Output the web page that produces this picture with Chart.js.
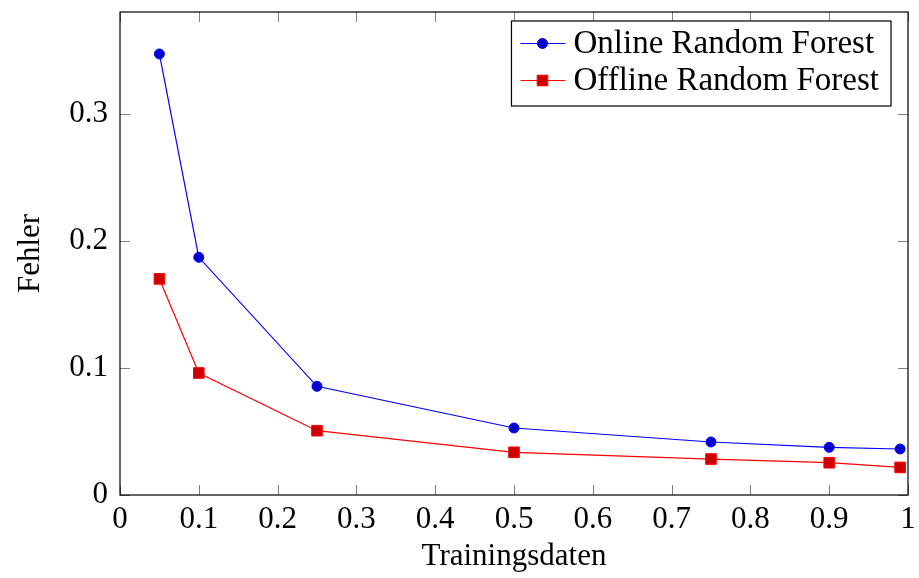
<!DOCTYPE html>
<html>
<head>
<meta charset="utf-8">
<script src="https://cdn.jsdelivr.net/npm/chart.js@4.4.1/dist/chart.umd.min.js"></script>
<style>
  html, body { margin: 0; padding: 0; background: #fff; }
  #wrap { width: 919px; height: 578px; }
</style>
</head>
<body>
<div id="wrap"><canvas id="chart" width="919" height="578"></canvas></div>
<script>
const trainingsdaten = [0.05, 0.1, 0.25, 0.5, 0.75, 0.9, 0.99]
const onlineFehler = [0.347, 0.187, 0.0855, 0.0527, 0.0417, 0.0375, 0.0362]
const offlineFehler = [0.170, 0.096, 0.0506, 0.0336, 0.0283, 0.0254, 0.0217]
const xTicks = [0, 0.1, 0.2, 0.3, 0.4, 0.5, 0.6, 0.7, 0.8, 0.9, 1]
const yTicks = [0, 0.1, 0.2, 0.3]
const seriesLabels = ['Online Random Forest', 'Offline Random Forest']
const xTitle = 'Trainingsdaten'
const yTitle = 'Fehler'

const serif = '"Liberation Serif", "Times New Roman", serif'
const fmt = v => String(Number(v.toFixed(2)))

// pgfplots style: box round the plot, small ticks pointing inward on all sides
const pgfAxis = {
  id: 'pgfAxis',
  beforeDatasetsDraw(chart) {
    const { ctx, chartArea: a, scales } = chart
    const len = 10
    ctx.save()
    ctx.strokeStyle = 'rgba(0,0,0,0.5)'
    ctx.lineWidth = 1
    ctx.beginPath()
    xTicks.forEach(v => {
      const x = Math.round(scales.x.getPixelForValue(v)) + 0.5
      ctx.moveTo(x, a.bottom); ctx.lineTo(x, a.bottom - len)
      ctx.moveTo(x, a.top); ctx.lineTo(x, a.top + len)
    })
    yTicks.forEach(v => {
      const y = Math.round(scales.y.getPixelForValue(v)) + 0.5
      ctx.moveTo(a.left, y); ctx.lineTo(a.left + len, y)
      ctx.moveTo(a.right, y); ctx.lineTo(a.right - len, y)
    })
    ctx.stroke()
    ctx.strokeStyle = '#000'
    ctx.lineWidth = 1.2
    ctx.strokeRect(a.left, a.top, a.right - a.left, a.bottom - a.top)
    ctx.restore()
  },
  afterDraw(chart) {
    const { ctx, chartArea: a } = chart
    const sets = chart.data.datasets
    ctx.save()
    ctx.font = '33px ' + serif
    const textW = Math.max(...sets.map(d => ctx.measureText(d.label).width))
    const right = a.right - 17
    const width = 62 + textW + 12
    const left = right - width
    const top = a.top + 9
    const rowH = 37
    const height = 85
    ctx.fillStyle = '#fff'
    ctx.fillRect(left, top, width, height)
    ctx.strokeStyle = '#000'
    ctx.lineWidth = 1.2
    ctx.strokeRect(left, top, width, height)
    sets.forEach((d, i) => {
      const y = top + 22.5 + i * rowH
      ctx.strokeStyle = d.borderColor
      ctx.lineWidth = d.borderWidth
      ctx.beginPath()
      ctx.moveTo(left + 9, y); ctx.lineTo(left + 54, y)
      ctx.stroke()
      ctx.fillStyle = d.pointBackgroundColor
      ctx.strokeStyle = d.pointBorderColor
      ctx.lineWidth = 1
      Chart.helpers.drawPoint(ctx, { pointStyle: d.pointStyle, radius: d.pointRadius, rotation: 0, borderWidth: 1 }, left + 31, y)
      ctx.fillStyle = '#000'
      ctx.textBaseline = 'middle'
      ctx.textAlign = 'left'
      ctx.fillText(d.label, left + 62, y + 1)
    })
    ctx.restore()
  }
}

const ctx1 = document.getElementById('chart')
let config1 = {
  type: 'line',
  data: {
    datasets: [{
      label: seriesLabels[0],
      data: trainingsdaten.map((x, i) => ({ x, y: onlineFehler[i] })),
      borderColor: '#0000ff',
      borderWidth: 1.2,
      pointStyle: 'circle',
      pointRadius: 5,
      pointBackgroundColor: '#0000cc',
      pointBorderColor: '#0000ff',
      pointBorderWidth: 1,
      tension: 0
    }, {
      label: seriesLabels[1],
      data: trainingsdaten.map((x, i) => ({ x, y: offlineFehler[i] })),
      borderColor: '#ff0000',
      borderWidth: 1.2,
      pointStyle: 'rect',
      pointRadius: 7.5,
      pointBackgroundColor: '#cc0000',
      pointBorderColor: '#ff0000',
      pointBorderWidth: 1,
      tension: 0
    }]
  },
  options: {
    responsive: false,
    devicePixelRatio: 1,
    animation: false,
    layout: { padding: { top: 12, right: 11, left: 0, bottom: 0 } },
    plugins: { legend: { display: false }, tooltip: { enabled: false } },
    scales: {
      x: {
        type: 'linear',
        min: 0,
        max: 1,
        afterBuildTicks: scale => { scale.ticks = xTicks.map(value => ({ value })) },
        afterFit: scale => {
          scale.height = 83
          scale.paddingLeft = 0
          scale.paddingRight = 0
        },
        grid: { display: false, drawTicks: false },
        border: { display: false },
        ticks: {
          padding: 6,
          color: '#000',
          font: { family: serif, size: 31 },
          maxRotation: 0,
          autoSkip: false,
          callback: v => fmt(v)
        },
        title: {
          display: true,
          text: xTitle,
          color: '#000',
          font: { family: serif, size: 31 },
          padding: { top: 0, bottom: 3 }
        }
      },
      y: {
        min: 0,
        max: 0.38,
        afterBuildTicks: scale => { scale.ticks = yTicks.map(value => ({ value })) },
        afterFit: scale => {
          scale.width = 120
          scale.paddingTop = 0
          scale.paddingBottom = 0
        },
        grid: { display: false, drawTicks: false },
        border: { display: false },
        ticks: {
          padding: 12,
          color: '#000',
          font: { family: serif, size: 31 },
          autoSkip: false,
          callback: v => fmt(v)
        },
        title: {
          display: true,
          text: yTitle,
          color: '#000',
          font: { family: serif, size: 31 },
          padding: { top: 12, bottom: 0 }
        }
      }
    }
  },
  plugins: [pgfAxis]
}
let chartFehler = new Chart(ctx1, config1)
</script>
</body>
</html>
